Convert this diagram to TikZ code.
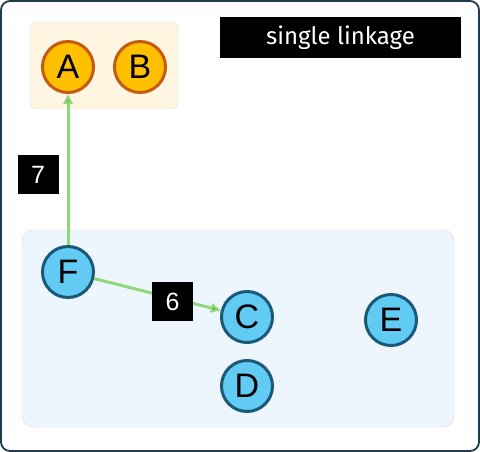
\documentclass[tikz,border=0pt]{standalone}
\usepackage{fontspec}
\setmainfont{Liberation Sans}
\newfontfamily\titlefont{Fira Sans}
\usetikzlibrary{positioning,arrows.meta}

\definecolor{frameline}{HTML}{1F3B4D}
\definecolor{orangefill}{HTML}{FFC000}
\definecolor{orangeline}{HTML}{C55A11}
\definecolor{bluefill}{HTML}{61CBF3}
\definecolor{blueline}{HTML}{1A5A78}
\definecolor{creamfill}{HTML}{FFF5E1}
\definecolor{paleblue}{HTML}{EEF6FD}
\definecolor{linkgreen}{HTML}{8DD97A}

\begin{document}
\begin{tikzpicture}[x=1pt,y=-1pt,>={Triangle[length=10pt,width=9pt]},node distance=72pt,on grid]
	\tikzstyle{orangenode}=[circle,line width=3pt,draw=orangeline,fill=orangefill,minimum size=51pt,inner sep=0pt,font=\fontsize{34}{34}\selectfont]
	\tikzstyle{bluenode}=[circle,line width=3pt,draw=blueline,fill=bluefill,minimum size=51pt,inner sep=0pt,font=\fontsize{34}{34}\selectfont]
	\tikzstyle{weight}=[fill=black,text=white,minimum width=41pt,minimum height=39pt,inner sep=0pt,font=\fontsize{25}{25}\selectfont]
	\tikzstyle{link}=[line width=3pt,draw=linkgreen]

	\useasboundingbox (0,0) rectangle (480,452);
	% frame and groups
	\draw[line width=1.8pt,draw=frameline,fill=white,rounded corners=9pt] (1,1) rectangle (479,451);
	\draw[draw=black!15,fill=creamfill,rounded corners=6pt] (30,22) rectangle (178,109);
	\draw[draw=black!15,fill=paleblue,rounded corners=11pt] (22,230) rectangle (454,427);

	\node[fill=black,text=white,minimum width=241pt,minimum height=41pt,inner sep=0pt,font=\titlefont\fontsize{24}{24}\selectfont] (TITLE) at (340.5,37.5) {single linkage};

	\node[orangenode] (A) at (68,67) {A};
	\node[orangenode] (B) [right=of A] {B};
	\node[bluenode] (F) [below=205pt of A] {F};
	\node[bluenode] (C) at (247,317) {C};
	\node[bluenode] (D) [below=69pt of C] {D};
	\node[bluenode] (E) [right=144pt of C, yshift=-3pt] {E};

	\path[->,link] (F) edge (A)
				(F) edge (C);
	\node[weight] (W7) at (38,174.5) {7};
	\node[weight] (W6) at (172.5,301.5) {6};
\end{tikzpicture}
\end{document}
